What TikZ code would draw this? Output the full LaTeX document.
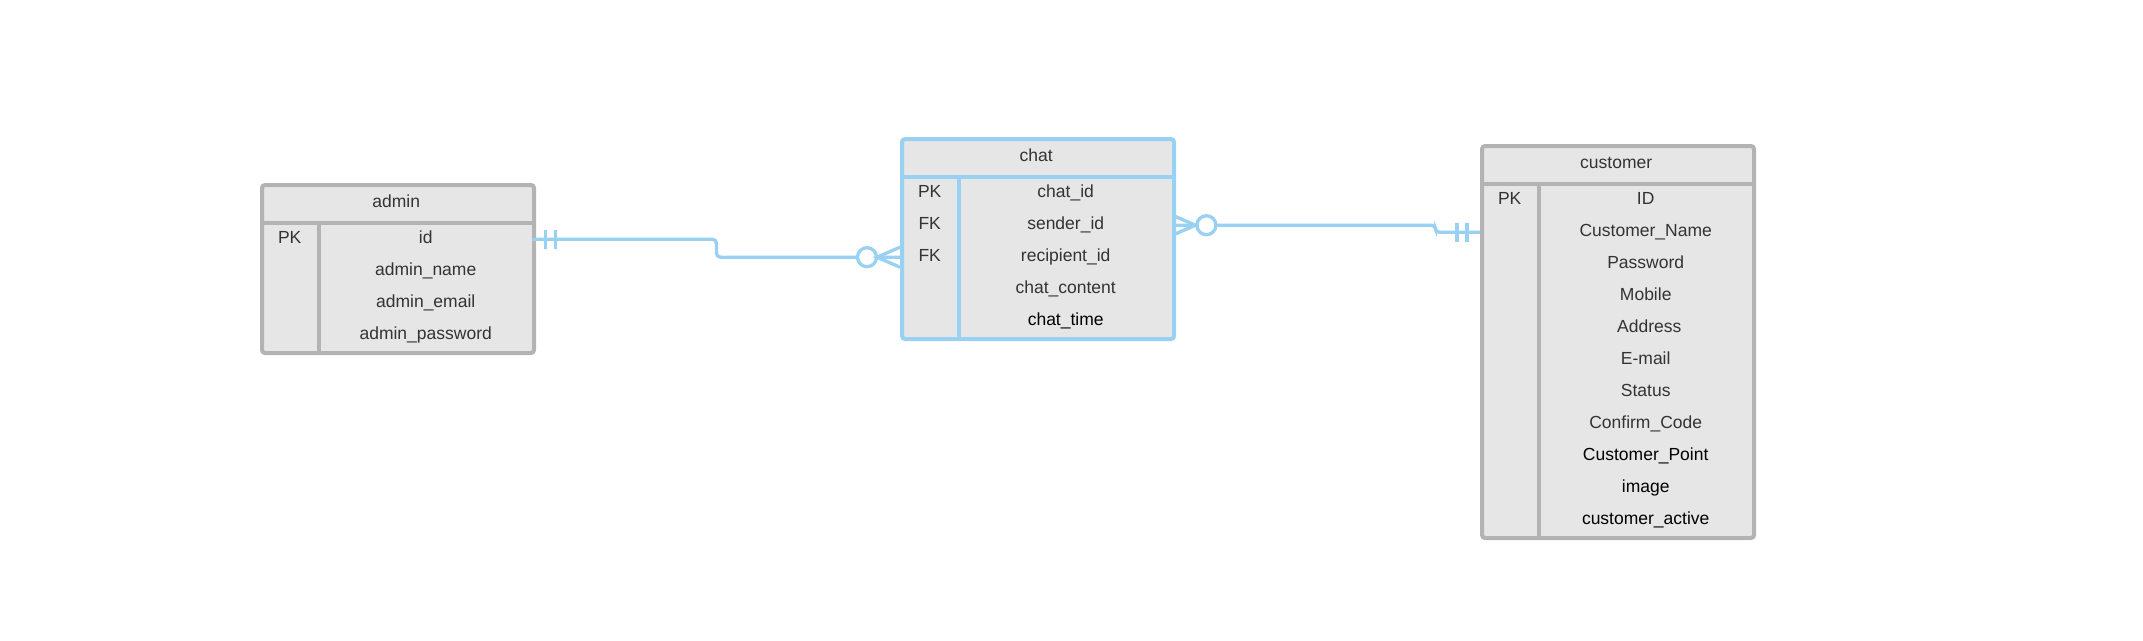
\documentclass[tikz,border=0pt]{standalone}
\usepackage{fontspec}
\setmainfont{Liberation Sans}
\usetikzlibrary{calc}
\definecolor{erblue}{RGB}{153,209,242}
\definecolor{ergrey}{RGB}{179,179,179}
\definecolor{erfill}{RGB}{230,230,230}
\definecolor{ertext}{RGB}{51,51,51}
\begin{document}
\begin{tikzpicture}[x=1pt,y=-1pt,
  font=\fontsize{17.5}{20}\selectfont,
  tbl/.style={fill=erfill, line width=4pt, rounded corners=3pt, minimum width=272pt, anchor=north west, inner sep=0pt},
  hdr/.style={minimum width=272pt, minimum height=40pt, anchor=north west, inner sep=0pt, text=ertext, text height=13pt, text depth=4pt},
  keycell/.style={minimum width=59pt, minimum height=32pt, anchor=north west, inner sep=0pt, text=ertext, text height=13pt, text depth=4pt},
  valcell/.style={minimum width=213pt, minimum height=32pt, anchor=north west, inner sep=0pt, text height=13pt, text depth=4pt},
  conn/.style={draw=erblue, line width=3.3pt}]
\useasboundingbox[fill=white] (0,0) rectangle (2143,640);

% ---------- admin ----------
\node[tbl, draw=ergrey, minimum height=168pt] (admin) at (260,183) {};
\node[hdr] (admin-h) at (260,183) {admin};
\foreach \k/\v/\c [count=\i] in {PK/id/ertext, /admin\_name/ertext, /admin\_email/ertext, /admin\_password/ertext}{
  \node[keycell] (admin-k\i) at (260,{223+32*(\i-1)}) {\k};
  \node[valcell, text=\c] (admin-v\i) at (319,{223+32*(\i-1)}) {\v};
}
\draw[ergrey, line width=4pt] (admin-h.south west) -- (admin-h.south east);
\draw[ergrey, line width=4pt] (admin-k1.north east) -- (admin.south -| admin-k1.east);

% ---------- chat ----------
\node[tbl, draw=erblue, minimum height=200pt] (chat) at (900,137) {};
\node[hdr] (chat-h) at (900,137) {chat};
\foreach \k/\v/\c [count=\i] in {PK/chat\_id/ertext, FK/sender\_id/ertext, FK/recipient\_id/ertext, /chat\_content/ertext, /chat\_time/black}{
  \node[keycell] (chat-k\i) at (900,{177+32*(\i-1)}) {\k};
  \node[valcell, text=\c] (chat-v\i) at (959,{177+32*(\i-1)}) {\v};
}
\draw[erblue, line width=4pt] (chat-h.south west) -- (chat-h.south east);
\draw[erblue, line width=4pt] (chat-k1.north east) -- (chat.south -| chat-k1.east);

% ---------- customer ----------
\node[tbl, draw=ergrey, minimum height=392pt] (cust) at (1480,144) {};
\node[hdr] (cust-h) at (1480,144) {customer};
\foreach \k/\v/\c/\s [count=\i] in {PK/ID/ertext/0, /Customer\_Name/ertext/0, /Password/ertext/0, /Mobile/ertext/0, /Address/ertext/7, /E-mail/ertext/0, /Status/ertext/0, /Confirm\_Code/ertext/0, /Customer\_Point/black/0, /image/black/0, /customer\_active/black/0}{
  \node[keycell] (cust-k\i) at (1480,{184+32*(\i-1)}) {\k};
  \node[valcell, text=\c] (cust-v\i) at (1539,{184+32*(\i-1)}) {\hspace*{\s pt}\v};
}
\draw[ergrey, line width=4pt] (cust-h.south west) -- (cust-h.south east);
\draw[ergrey, line width=4pt] (cust-k1.north east) -- (cust.south -| cust-k1.east);

% ---------- admin -- chat ----------
\draw[conn, rounded corners=4pt] (admin-v1.east) -- ++(184,0) |- (chat-k3.west);
\draw[conn] ($(admin-v1.east)+(13,-9.5)$) -- ++(0,19);
\draw[conn] ($(admin-v1.east)+(23,-9.5)$) -- ++(0,19);
\draw[conn, fill=white] ($(chat-k3.west)+(-33,0)$) circle[radius=9.5];
\draw[conn] ($(chat-k3.west)+(0,-10)$) -- ($(chat-k3.west)+(-23,0)$) -- ($(chat-k3.west)+(0,10)$);

% ---------- chat -- customer ----------
\draw[conn, rounded corners=4pt] (chat-v2.east) -- ++(263,0) |- (cust-k2.west);
\draw[conn, fill=white] ($(chat-v2.east)+(34,0)$) circle[radius=9.5];
\draw[conn] ($(chat-v2.east)+(0,-10)$) -- ($(chat-v2.east)+(23,0)$) -- ($(chat-v2.east)+(0,10)$);
\draw[conn] ($(cust-k2.west)+(-23,-9.5)$) -- ++(0,19);
\draw[conn] ($(cust-k2.west)+(-13,-9.5)$) -- ++(0,19);
\end{tikzpicture}
\end{document}
